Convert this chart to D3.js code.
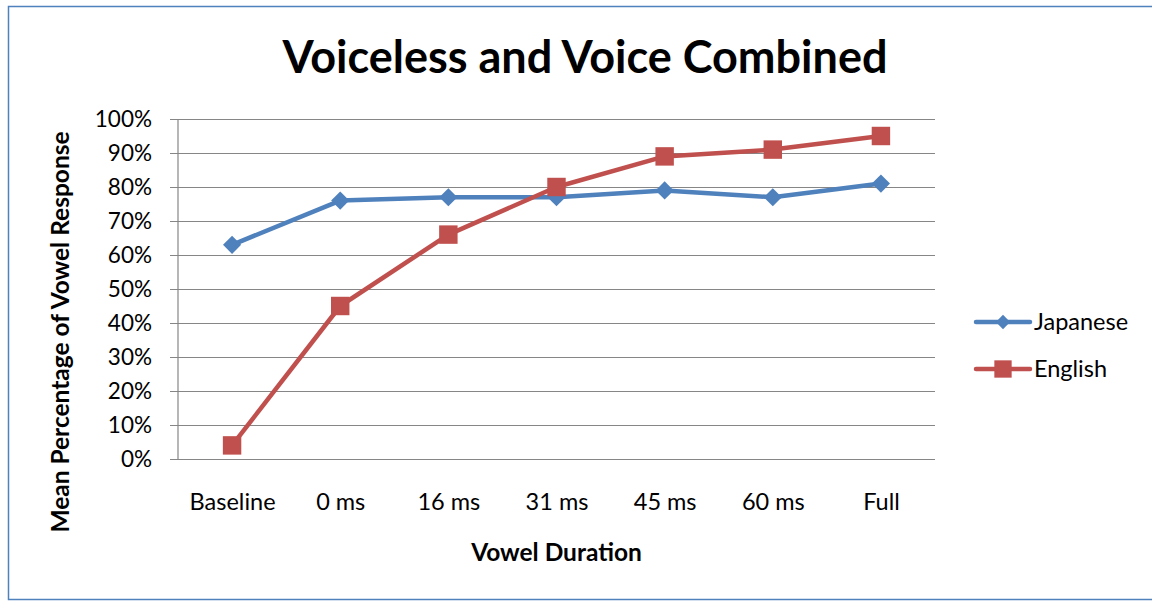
<!DOCTYPE html>
<html>
<head>
<meta charset="utf-8">
<script src="https://cdn.jsdelivr.net/npm/d3@7"></script>
<style>
  html, body { margin: 0; padding: 0; background: #fff; }
  svg { display: block; font-family: Lato, "Open Sans", sans-serif; }
</style>
</head>
<body>
<svg id="chart" width="1152" height="601"></svg>
<script>
// Vowel duration conditions along the x axis
const categories = ["Baseline", "0 ms", "16 ms", "31 ms", "45 ms", "60 ms", "Full"];
// Mean percentage of vowel responses per listener group
const japanese = [63, 76, 77, 77, 79, 77, 81];
const english = [4, 45, 66, 80, 89, 91, 95];
const yTicks = [0, 10, 20, 30, 40, 50, 60, 70, 80, 90, 100];

const series = [
  { name: "Japanese", values: japanese, color: "#4F81BD", shape: "diamond" },
  { name: "English", values: english, color: "#C0504D", shape: "square" }
];

const FONT = "Lato, 'Open Sans', sans-serif";
const svg = d3.select("#chart");
const plot = { left: 178, right: 935, top: 119, bottom: 459 };

// Outer chart frame
svg.append("rect")
  .attr("x", 8.5).attr("y", 6.5).attr("width", 1150).attr("height", 593)
  .attr("fill", "none").attr("stroke", "#4F81BD").attr("stroke-width", 1.5);

const x = d3.scalePoint().domain(categories)
  .range([plot.left, plot.right]).padding(0.5);
const y = d3.scaleLinear().domain([0, 100]).range([plot.bottom, plot.top]);

// Horizontal gridlines with left tick labels
const yAxis = d3.axisLeft(y).tickValues(yTicks)
  .tickSize(-(plot.right - plot.left)).tickPadding(26)
  .tickFormat(d => d + "%");
const gy = svg.append("g").attr("transform", `translate(${plot.left},0)`).call(yAxis)
  .attr("font-family", FONT);
gy.select(".domain").remove();
gy.selectAll(".tick line").attr("stroke", "#868686").attr("stroke-width", 1.2)
  .attr("x1", -8);
gy.selectAll(".tick text").attr("font-size", 22.5).attr("fill", "#000");

// Vertical axis line
svg.append("line")
  .attr("x1", plot.left).attr("x2", plot.left)
  .attr("y1", plot.top).attr("y2", plot.bottom)
  .attr("stroke", "#868686").attr("stroke-width", 1.2);

// Category labels
const xAxis = d3.axisBottom(x).tickSize(0).tickPadding(34);
const gx = svg.append("g").attr("transform", `translate(0,${plot.bottom})`).call(xAxis)
  .attr("font-family", FONT);
gx.select(".domain").remove();
gx.selectAll(".tick text").attr("font-size", 23.5).attr("fill", "#000");

// Series lines and markers
const line = d3.line().x((d, i) => x(categories[i])).y(d => y(d));
const symbolFor = s => s === "diamond"
  ? d3.symbol().type(d3.symbolDiamond2).size(210)
  : d3.symbol().type(d3.symbolSquare).size(340);

series.forEach(s => {
  svg.append("path").datum(s.values)
    .attr("d", line).attr("fill", "none")
    .attr("stroke", s.color).attr("stroke-width", 4.5)
    .attr("stroke-linejoin", "round");
  svg.append("g").selectAll("path").data(s.values).join("path")
    .attr("transform", (d, i) => `translate(${x(categories[i])},${y(d)})`)
    .attr("d", symbolFor(s.shape)())
    .attr("fill", s.color);
});

// Legend
const legend = svg.append("g");
series.forEach((s, i) => {
  const ly = 322 + i * 47;
  legend.append("line").attr("x1", 976).attr("x2", 1030)
    .attr("y1", ly).attr("y2", ly)
    .attr("stroke", s.color).attr("stroke-width", 4.5).attr("stroke-linecap", "round");
  legend.append("path")
    .attr("transform", `translate(1003,${ly})`)
    .attr("d", s.shape === "diamond"
      ? d3.symbol().type(d3.symbolDiamond2).size(130)()
      : d3.symbol().type(d3.symbolSquare).size(300)())
    .attr("fill", s.color);
  legend.append("text").attr("x", 1034).attr("y", ly).attr("dy", "0.35em")
    .attr("font-size", 23.5).attr("fill", "#000").text(s.name);
});

// Titles
svg.append("text").attr("x", 585).attr("y", 73).attr("text-anchor", "middle")
  .attr("font-size", 45).attr("font-weight", "bold").attr("fill", "#000")
  .text("Voiceless and Voice Combined");
svg.append("text").attr("x", (plot.left + plot.right) / 2).attr("y", 561)
  .attr("text-anchor", "middle").attr("font-size", 24.5).attr("font-weight", "bold")
  .attr("fill", "#000").text("Vowel Duration");
svg.append("text")
  .attr("transform", `translate(69,${(plot.top + plot.bottom) / 2 + 43}) rotate(-90)`)
  .attr("text-anchor", "middle").attr("font-size", 24.5).attr("font-weight", "bold")
  .attr("fill", "#000").text("Mean Percentage of Vowel Response");
</script>
</body>
</html>
